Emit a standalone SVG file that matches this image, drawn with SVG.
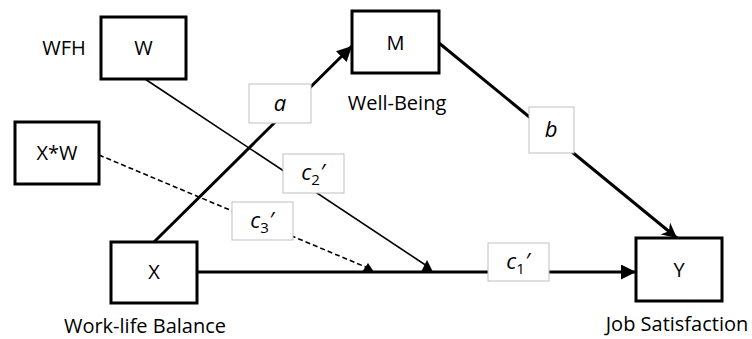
<svg xmlns="http://www.w3.org/2000/svg" width="752" height="339" viewBox="0 0 752 339">
<style>
.node{fill:#fff;stroke:#000;stroke-width:3}
.lbl{fill:#fff;stroke:#bfbfbf;stroke-width:1}
.t{font-family:"Open Sans","Liberation Sans",sans-serif;font-size:20px;fill:#000;text-anchor:middle}
.it{font-family:"Open Sans","Liberation Sans",sans-serif;font-size:22px;font-style:italic;fill:#000;text-anchor:middle}
.sub{font-size:15px;font-style:normal}
.thick{stroke:#000;stroke-width:3;fill:none}
.thin{stroke:#000;stroke-width:1.6;fill:none}
.dash{stroke:#000;stroke-width:1.6;fill:none;stroke-dasharray:5 3}
</style>
<defs>
<marker id="ah" viewBox="0 0 10 10" refX="10" refY="5" markerWidth="5" markerHeight="5" markerUnits="strokeWidth" orient="auto">
<path d="M0,0 L10,5 L0,10 z" fill="#000"/>
</marker>
<marker id="ah2" viewBox="0 0 10 10" refX="10" refY="5" markerWidth="5" markerHeight="5" markerUnits="strokeWidth" orient="auto">
<path d="M0,0 L10,5 L0,10 L3,5 z" fill="#000"/>
</marker>
</defs>
<g id="connectors">
<line class="thick" x1="154" y1="242" x2="352" y2="46" marker-end="url(#ah)"/>
<line class="thick" x1="439" y1="43" x2="677" y2="238" marker-end="url(#ah2)"/>
<line class="thick" x1="197" y1="272" x2="636" y2="272" marker-end="url(#ah)"/>
<line class="thin" x1="145" y1="79" x2="427" y2="266"/>
<polygon points="421,272 427,260 433,272" fill="#000"/>
<line class="dash" x1="99" y1="155" x2="368" y2="268"/>
<polygon points="362,272 368,263 374,272" fill="#000"/>
<g id="label-a"><rect class="lbl" x="249" y="84" width="62" height="39"/><text class="it" x="280" y="111">a</text></g>
<g id="label-b"><rect class="lbl" x="529" y="107" width="45" height="46"/><text class="it" x="551" y="137">b</text></g>
<g id="label-c2"><rect class="lbl" x="283" y="154" width="61" height="39"/><text class="it" x="313" y="180">c<tspan class="sub" dy="5">2</tspan><tspan dy="-5">′</tspan></text></g>
<g id="label-c3"><rect class="lbl" x="232" y="202" width="61" height="38"/><text class="it" x="262" y="228">c<tspan class="sub" dy="5">3</tspan><tspan dy="-5">′</tspan></text></g>
<g id="label-c1"><rect class="lbl" x="488" y="243" width="61" height="38"/><text class="it" x="518" y="269">c<tspan class="sub" dy="5">1</tspan><tspan dy="-5">′</tspan></text></g>
</g>
<g id="node-W"><rect class="node" x="101" y="17" width="85" height="62"/><text class="t" x="143.5" y="55">W</text><text class="t" x="64" y="55">WFH</text></g>
<g id="node-M"><rect class="node" x="352" y="11" width="87" height="62"/><text class="t" x="395.5" y="50">M</text><text class="t" x="397" y="110">Well-Being</text></g>
<g id="node-XW"><rect class="node" x="15" y="122" width="84" height="62"/><text class="t" x="57" y="160">X*W</text></g>
<g id="node-X"><rect class="node" x="111" y="242" width="86" height="61"/><text class="t" x="154" y="279">X</text><text class="t" x="145" y="333">Work-life Balance</text></g>
<g id="node-Y"><rect class="node" x="636" y="238" width="86" height="63"/><text class="t" x="677" y="331">Job Satisfaction</text><text class="t" x="679" y="277">Y</text></g>
</svg>
